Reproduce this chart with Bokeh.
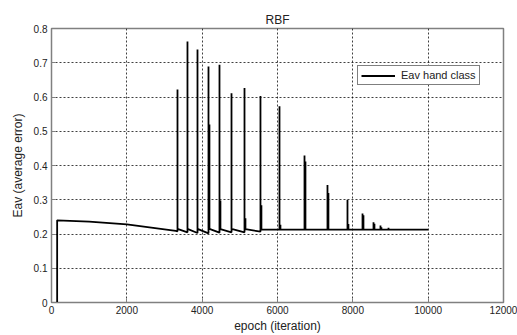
from bokeh.plotting import figure
from bokeh.embed import file_html
from bokeh.resources import INLINE
from bokeh.models import FixedTicker, Legend, LegendItem, Range1d

# ---- data ----
base_epoch = [150, 150, 1000, 2000, 2700, 3300]
base_value = [0.0, 0.240, 0.236, 0.228, 0.218, 0.209]

spike_epoch = [3345, 3610, 3876, 4168, 4460, 4779, 5124, 5548, 6053, 6717, 7327, 7858, 8257, 8549, 8734, 8947]
spike_peak = [0.622, 0.762, 0.739, 0.689, 0.694, 0.611, 0.626, 0.603, 0.573, 0.429, 0.343, 0.300, 0.260, 0.234, 0.225, 0.218]
before_value = [0.208, 0.205, 0.203, 0.202, 0.204, 0.205, 0.205, 0.207, 0.213, 0.213, 0.213, 0.213, 0.213, 0.213, 0.213, 0.213]
after_value = [0.215, 0.215, 0.215, 0.215, 0.214, 0.214, 0.214, 0.213, 0.213, 0.213, 0.213, 0.213, 0.213, 0.213, 0.213, 0.213]
sub_peak = [0.215, 0.215, 0.215, 0.520, 0.298, 0.215, 0.246, 0.284, 0.227, 0.412, 0.320, 0.229, 0.255, 0.230, 0.220, 0.213]

end_epoch = 10000
end_value = 0.213

x_ticks = [0, 2000, 4000, 6000, 8000, 10000, 12000]
y_ticks = [0, 0.1, 0.2, 0.3, 0.4, 0.5, 0.6, 0.7, 0.8]
y_labels = ["0", "0.1", "0.2", "0.3", "0.4", "0.5", "0.6", "0.7", "0.8"]

# ---- build the single polyline ----
xs = list(base_epoch)
ys = list(base_value)
for e, pk, b, a, s in zip(spike_epoch, spike_peak, before_value, after_value, sub_peak):
    xs += [e, e, e]
    ys += [b, pk, a]
    if s > a:
        xs += [e + 25, e + 25, e + 25]
        ys += [a, s, a]
xs.append(end_epoch)
ys.append(end_value)

FONT = "Liberation Sans"
TXT = "#222222"

p = figure(width=517, height=335, output_backend="svg", toolbar_location=None,
           x_range=Range1d(0, 12000), y_range=Range1d(0, 0.8),
           min_border_left=51, min_border_right=14, min_border_top=28, min_border_bottom=30,
           title="RBF")
p.title.align = "center"
p.title.text_font = FONT
p.title.text_font_size = "12px"
p.title.text_font_style = "normal"
p.title.text_color = TXT
p.title.standoff = 3

r = p.line(xs, ys, line_color="black", line_width=1.8)

for ax in (p.xaxis[0], p.yaxis[0]):
    ax.axis_line_color = "#808080"
    ax.major_tick_line_color = "#808080"
    ax.major_tick_in = 4
    ax.major_tick_out = 0
    ax.minor_tick_line_color = None
    ax.major_label_text_font = FONT
    ax.major_label_text_font_size = "10px"
    ax.major_label_text_color = TXT
    ax.axis_label_text_font = FONT
    ax.axis_label_text_font_size = "12px"
    ax.axis_label_text_font_style = "normal"
    ax.axis_label_text_color = TXT

p.xaxis.ticker = FixedTicker(ticks=x_ticks)
p.yaxis.ticker = FixedTicker(ticks=y_ticks)
p.yaxis.major_label_overrides = {t: l for t, l in zip(y_ticks, y_labels)}
p.xaxis.axis_label = "epoch (iteration)"
p.yaxis.axis_label = "Eav (average error)"
p.xaxis.major_label_standoff = 3
p.xaxis.axis_label_standoff = 2
p.yaxis.major_label_standoff = 4
p.yaxis.axis_label_standoff = 6

p.xgrid.ticker = FixedTicker(ticks=x_ticks)
p.ygrid.ticker = FixedTicker(ticks=y_ticks)
for g in (p.xgrid[0], p.ygrid[0]):
    g.grid_line_color = "black"
    g.grid_line_dash = "2 2"
    g.grid_line_width = 1
    g.grid_line_alpha = 0.75

p.outline_line_color = "#808080"
p.outline_line_width = 1.5
p.background_fill_color = "white"
p.border_fill_color = "white"

legend = Legend(items=[LegendItem(label="Eav hand class", renderers=[r])],
                location=(306, 217))
legend.label_text_font = FONT
legend.label_text_font_size = "11px"
legend.label_text_color = TXT
legend.label_height = 7
legend.glyph_height = 7
legend.glyph_width = 34
legend.padding = 3
legend.margin = 0
legend.spacing = 0
legend.label_standoff = 6
legend.border_line_color = "black"
legend.border_line_width = 1
legend.background_fill_alpha = 1
p.add_layout(legend, "center")

open("out.html", "w").write(file_html(p, INLINE))
